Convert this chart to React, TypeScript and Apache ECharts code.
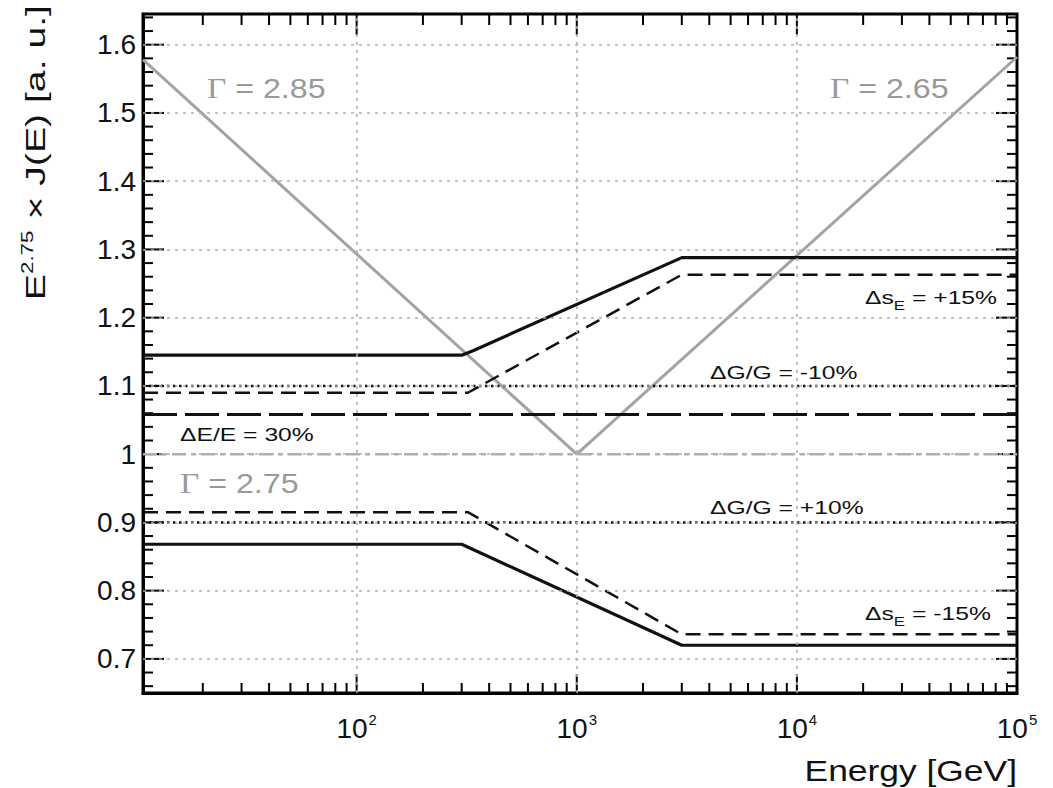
import React, { useEffect, useRef } from 'react';
import * as echarts from 'echarts';

// ---- axis ranges & ticks ----
const E_MIN = 10.7;
const E_MAX = 100000;
const Y_MIN = 0.65;
const Y_MAX = 1.645;

const xMajorTicks = [100, 1000, 10000, 100000];
const xTickExponents = ['2', '3', '4', '5'];
const xMinorTicks = [
  20, 30, 40, 50, 60, 70, 80, 90,
  200, 300, 400, 500, 600, 700, 800, 900,
  2000, 3000, 4000, 5000, 6000, 7000, 8000, 9000,
  20000, 30000, 40000, 50000, 60000, 70000, 80000, 90000,
];
const yMajorTicks = [0.7, 0.8, 0.9, 1.0, 1.1, 1.2, 1.3, 1.4, 1.5, 1.6];
const yTickLabels = ['0.7', '0.8', '0.9', '1', '1.1', '1.2', '1.3', '1.4', '1.5', '1.6'];
const yMinorTicks = [
  0.66, 0.68, 0.72, 0.74, 0.76, 0.78, 0.82, 0.84, 0.86, 0.88,
  0.92, 0.94, 0.96, 0.98, 1.02, 1.04, 1.06, 1.08, 1.12, 1.14, 1.16, 1.18,
  1.22, 1.24, 1.26, 1.28, 1.32, 1.34, 1.36, 1.38, 1.42, 1.44, 1.46, 1.48,
  1.52, 1.54, 1.56, 1.58, 1.62, 1.64,
];
const xGridValues = [100, 1000, 10000];
const yGridValues = yMajorTicks;

// ---- series data [energy GeV, E^2.75 x J(E)] ----
const gammaVee = [[E_MIN, 1.578], [1000, 1.0], [E_MAX, 1.582]];
const gamma275 = [[E_MIN, 1.0], [E_MAX, 1.0]];
const upperSolid = [[E_MIN, 1.145], [300, 1.145], [340, 1.152], [3000, 1.288], [E_MAX, 1.288]];
const upperDashed = [[E_MIN, 1.09], [320, 1.09], [3000, 1.263], [E_MAX, 1.263]];
const gainMinus10 = [[E_MIN, 1.1], [E_MAX, 1.1]];
const energyRes30 = [[E_MIN, 1.058], [E_MAX, 1.058]];
const gainPlus10 = [[E_MIN, 0.9], [E_MAX, 0.9]];
const lowerDashed = [[E_MIN, 0.915], [320, 0.915], [3000, 0.736], [E_MAX, 0.736]];
const lowerSolid = [[E_MIN, 0.868], [300, 0.868], [3000, 0.72], [E_MAX, 0.72]];

const SANS = 'Liberation Sans, Arial, Helvetica, sans-serif';
const SERIF = 'Liberation Serif, Times New Roman, serif';

function lineSeries(name: string, data: number[][], color: string, width: number, type: any, z = 3) {
  return {
    name,
    type: 'line',
    data,
    showSymbol: false,
    symbol: 'none',
    silent: true,
    z,
    lineStyle: { color, width, type },
  };
}

export default function App() {
  const ref = useRef<HTMLDivElement>(null);
  useEffect(() => {
    if (!ref.current) return;
    const chart = echarts.init(ref.current, undefined, { renderer: 'svg' });

    const textSmall = (text: string, x: number, y: number) => ({
      type: 'text',
      x,
      y,
      scaleX: 1.3,
      style: {
        text,
        fill: '#111',
        font: `19px ${SANS}`,
        align: 'left',
        verticalAlign: 'middle',
        rich: {
          t: { fontSize: 19, fontFamily: SANS, fill: '#111', lineHeight: 28 },
          sub: { fontSize: 13, fontFamily: SANS, fill: '#111', verticalAlign: 'bottom' },
        },
      },
    });
    const gammaText = (value: string, x: number, y: number) => ({
      type: 'text',
      x,
      y,
      scaleX: 1.15,
      style: {
        text: `{g|Γ}{t| = ${value}}`,
        align: 'left',
        verticalAlign: 'middle',
        rich: {
          g: { fontSize: 29, fontFamily: SERIF, fill: '#999' },
          t: { fontSize: 28, fontFamily: SANS, fill: '#999' },
        },
      },
    });
    const makeTexts = (): any[] => [
      gammaText('2.85', 207, 88),
      gammaText('2.65', 830, 88),
      gammaText('2.75', 180, 483),
      textSmall('{t|Δs}{sub|E}{t| = +15%}', 865, 298),
      textSmall('{t|ΔG/G = -10%}', 710, 373),
      textSmall('{t|ΔE/E = 30%}', 180, 435),
      textSmall('{t|ΔG/G = +10%}', 710, 508),
      textSmall('{t|Δs}{sub|E}{t| = -15%}', 865, 614),
      {
        type: 'text',
        x: 1017,
        y: 770,
        scaleX: 1.18,
        style: {
          text: 'Energy [GeV]',
          font: `30px ${SANS}`,
          fill: '#111',
          align: 'right',
          verticalAlign: 'middle',
        },
      },
      {
        type: 'text',
        x: 35,
        y: 5,
        rotation: Math.PI / 2,
        scaleX: 1.4,
        style: {
          text: '{m|E}{s|2.75}{m| × J(E) [a. u.]}',
          align: 'right',
          verticalAlign: 'middle',
          rich: {
            m: { fontSize: 28, fontFamily: SANS, fill: '#111', lineHeight: 32 },
            s: { fontSize: 16, fontFamily: SANS, fill: '#111', verticalAlign: 'top' },
          },
        },
      },
    ];

    // 1) axes + series (no graphic yet)
    chart.setOption({
      animation: false,
      backgroundColor: '#fff',
      grid: {
        left: 143,
        top: 14,
        right: 36,
        bottom: 95,
        show: true,
        borderColor: '#000',
        borderWidth: 3,
        backgroundColor: 'transparent',
        outerBoundsMode: 'none',
      },
      xAxis: {
        type: 'log',
        logBase: 10,
        min: E_MIN,
        max: E_MAX,
        axisLine: { show: true, onZero: false, lineStyle: { color: '#000', width: 3 } },
        axisTick: { show: false },
        splitLine: { show: false },
        axisLabel: {
          customValues: xMajorTicks,
          margin: 18,
          formatter: (v: number) => {
            const i = xMajorTicks.findIndex((t) => Math.abs(t - v) / t < 1e-6);
            return i >= 0 ? `{b|10}{s|${xTickExponents[i]}}` : '';
          },
          rich: {
            b: { fontSize: 28, fontFamily: SANS, color: '#111', lineHeight: 34 },
            s: { fontSize: 15, fontFamily: SANS, color: '#111', verticalAlign: 'top', padding: [1, 0, 0, 1] },
          },
        },
      },
      yAxis: {
        type: 'value',
        min: Y_MIN,
        max: Y_MAX,
        axisLine: { show: true, onZero: false, lineStyle: { color: '#000', width: 3 } },
        axisTick: { show: false },
        splitLine: { show: false },
        axisLabel: {
          customValues: yMajorTicks,
          margin: 7,
          fontSize: 28,
          fontFamily: SANS,
          color: '#111',
          formatter: (v: number) => {
            const i = yMajorTicks.findIndex((t) => Math.abs(t - v) < 1e-6);
            return i >= 0 ? yTickLabels[i] : '';
          },
        },
      },
      series: [
        lineSeries('Γ = 2.85 / 2.65', gammaVee, '#a3a3a3', 3, 'solid', 2),
        lineSeries('Γ = 2.75', gamma275, '#b0b0b0', 2.5, [14, 5, 5, 5], 2),
        lineSeries('ΔG/G = -10%', gainMinus10, '#111', 2.5, [2.5, 3.5]),
        lineSeries('ΔE/E = 30%', energyRes30, '#111', 3, [34, 8]),
        lineSeries('ΔG/G = +10%', gainPlus10, '#111', 2.5, [2.5, 3.5]),
        lineSeries('Δs_E = +15%', upperDashed, '#111', 2.5, [15, 8]),
        lineSeries('Δs_E = -15%', lowerDashed, '#111', 2.5, [15, 8]),
        lineSeries('upper', upperSolid, '#111', 3.2, 'solid'),
        lineSeries('lower', lowerSolid, '#111', 3.2, 'solid'),
        {
          name: 'grid',
          type: 'line',
          data: [],
          silent: true,
          z: 1,
          markLine: {
            silent: true,
            symbol: 'none',
            label: { show: false },
            lineStyle: { color: '#b0b0b0', width: 1.6, type: [3, 5] },
            data: [
              ...xGridValues.map((v) => ({ xAxis: v })),
              ...yGridValues.map((v) => ({ yAxis: v })),
            ],
          },
        },
      ],
    });

    // 2) tick marks on all four sides, positioned through the chart's own axis scales
    const ticks: any[] = [];
    try {
      const toPx = (x: number, y: number): number[] =>
        chart.convertToPixel({ seriesIndex: 0 } as any, [x, y]) as any;
      const seg = (x1: number, y1: number, x2: number, y2: number) => {
        if (![x1, y1, x2, y2].every((q) => Number.isFinite(q))) return;
        ticks.push({ type: 'line', shape: { x1, y1, x2, y2 }, style: { stroke: '#000', lineWidth: 2 } });
      };
      xMajorTicks.forEach((v) => {
        const b = toPx(v, Y_MIN);
        const t = toPx(v, Y_MAX);
        seg(b[0], b[1], b[0], b[1] - 19);
        seg(t[0], t[1], t[0], t[1] + 21);
      });
      xMinorTicks.forEach((v) => {
        const b = toPx(v, Y_MIN);
        const t = toPx(v, Y_MAX);
        seg(b[0], b[1], b[0], b[1] - 10);
        seg(t[0], t[1], t[0], t[1] + 11);
      });
      yMajorTicks.forEach((v) => {
        const l = toPx(E_MIN, v);
        const r = toPx(E_MAX, v);
        seg(l[0], l[1], l[0] + 21, l[1]);
        seg(r[0], r[1], r[0] - 21, r[1]);
      });
      yMinorTicks.forEach((v) => {
        const l = toPx(E_MIN, v);
        const r = toPx(E_MAX, v);
        seg(l[0], l[1], l[0] + 10, l[1]);
        seg(r[0], r[1], r[0] - 10, r[1]);
      });
    } catch (e) {
      // ignore: ticks stay empty
    }

    // 3) graphic layer created once: ticks + texts
    try {
      chart.setOption({ graphic: [...ticks, ...makeTexts()] });
    } catch (e) {
      chart.setOption({ graphic: makeTexts() });
    }

    return () => {
      chart.dispose();
    };
  }, []);

  return (
    <div
      ref={ref}
      style={{ position: 'fixed', left: 0, top: 0, width: 1053, height: 788, background: '#fff' }}
    />
  );
}
